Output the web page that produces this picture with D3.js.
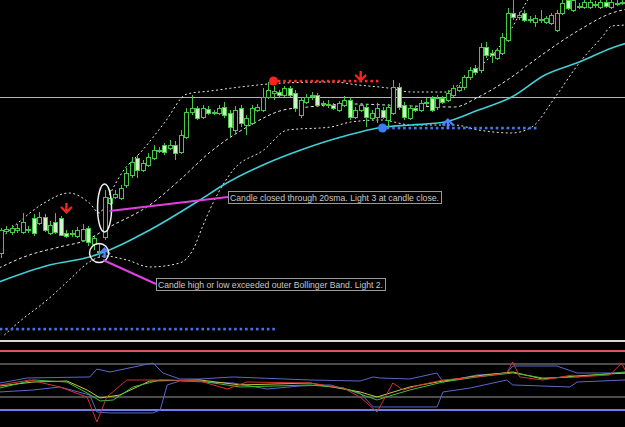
<!DOCTYPE html>
<html>
<head>
<meta charset="utf-8">
<script src="https://cdn.jsdelivr.net/npm/d3@7"></script>
<style>
  body { margin: 0; background: #000; overflow: hidden; }
  svg { display: block; }
</style>
</head>
<body>
<div id="chart"></div>
<script>
// candles, one per bar (prices)
const open = [1.3207,1.3229,1.3228,1.3230,1.3228,1.3231,1.3242,1.3237,1.3243,1.3227,
  1.3238,1.3242,1.3227,1.3226,1.3224,1.3220,1.3232,1.3216,1.3208,1.3223,
  1.3257,1.3263,1.3262,1.3275,1.3285,1.3302,1.3290,1.3295,1.3302,1.3309,
  1.3315,1.3312,1.3315,1.3308,1.3323,1.3348,1.3352,1.3343,1.3351,1.3348,
  1.3347,1.3353,1.3347,1.3330,1.3352,1.3335,1.3337,1.3350,1.3350,1.3363,
  1.3367,1.3368,1.3365,1.3372,1.3367,1.3345,1.3358,1.3364,1.3365,1.3356,
  1.3356,1.3355,1.3350,1.3355,1.3360,1.3343,1.3350,1.3353,1.3342,1.3343,
  1.3350,1.3340,1.3347,1.3373,1.3355,1.3342,1.3352,1.3350,1.3357,1.3362,
  1.3353,1.3362,1.3360,1.3365,1.3370,1.3373,1.3383,1.3392,1.3390,1.3413,
  1.3407,1.3402,1.3407,1.3420,1.3447,1.3443,1.3447,1.3440,1.3438,1.3441,
  1.3438,1.3437,1.3430,1.3447,1.3460,1.3450,1.3454,1.3453,1.3453,1.3455,
  1.3453,1.3458,1.3453,1.3456,1.3457];
const high = [1.3232,1.3234,1.3235,1.3236,1.3247,1.3234,1.3246,1.3248,1.3246,1.3239,
  1.3247,1.3244,1.3230,1.3230,1.3233,1.3236,1.3234,1.3225,1.3216,1.3270,
  1.3270,1.3270,1.3275,1.3292,1.3303,1.3305,1.3300,1.3307,1.3315,1.3313,
  1.3317,1.3320,1.3319,1.3330,1.3352,1.3365,1.3354,1.3355,1.3354,1.3350,
  1.3355,1.3358,1.3350,1.3354,1.3355,1.3345,1.3355,1.3356,1.3372,1.3378,
  1.3374,1.3370,1.3374,1.3374,1.3370,1.3363,1.3366,1.3368,1.3367,1.3359,
  1.3360,1.3357,1.3359,1.3364,1.3363,1.3353,1.3357,1.3356,1.3350,1.3357,
  1.3353,1.3356,1.3380,1.3377,1.3358,1.3355,1.3354,1.3360,1.3362,1.3364,
  1.3365,1.3364,1.3370,1.3375,1.3375,1.3385,1.3393,1.3395,1.3417,1.3418,
  1.3410,1.3412,1.3427,1.3452,1.3460,1.3448,1.3450,1.3444,1.3445,1.3450,
  1.3444,1.3447,1.3450,1.3460,1.3463,1.3464,1.3457,1.3460,1.3461,1.3459,
  1.3460,1.3460,1.3461,1.3460,1.3461];
const low = [1.3202,1.3226,1.3225,1.3227,1.3226,1.3227,1.3224,1.3235,1.3228,1.3225,
  1.3226,1.3224,1.3222,1.3223,1.3222,1.3218,1.3214,1.3210,1.3202,1.3220,
  1.3255,1.3261,1.3260,1.3272,1.3282,1.3282,1.3288,1.3293,1.3300,1.3307,
  1.3305,1.3310,1.3300,1.3306,1.3321,1.3345,1.3340,1.3341,1.3345,1.3345,
  1.3345,1.3342,1.3323,1.3327,1.3333,1.3325,1.3335,1.3348,1.3348,1.3361,
  1.3360,1.3363,1.3363,1.3363,1.3348,1.3342,1.3356,1.3360,1.3353,1.3353,
  1.3352,1.3350,1.3348,1.3353,1.3340,1.3341,1.3348,1.3333,1.3340,1.3337,
  1.3341,1.3333,1.3345,1.3350,1.3340,1.3340,1.3348,1.3348,1.3354,1.3348,
  1.3350,1.3356,1.3358,1.3363,1.3368,1.3370,1.3380,1.3385,1.3387,1.3402,
  1.3397,1.3400,1.3405,1.3418,1.3440,1.3440,1.3438,1.3437,1.3433,1.3437,
  1.3436,1.3435,1.3428,1.3445,1.3450,1.3448,1.3451,1.3451,1.3451,1.3452,
  1.3451,1.3452,1.3451,1.3454,1.3455];
const close = [1.3230,1.3231,1.3232,1.3232,1.3238,1.3230,1.3227,1.3243,1.3230,1.3235,
  1.3228,1.3225,1.3224,1.3227,1.3230,1.3231,1.3218,1.3222,1.3209,1.3263,
  1.3262,1.3266,1.3272,1.3287,1.3298,1.3290,1.3297,1.3303,1.3310,1.3310,
  1.3308,1.3315,1.3307,1.3325,1.3348,1.3352,1.3342,1.3352,1.3347,1.3347,
  1.3352,1.3345,1.3333,1.3350,1.3337,1.3342,1.3352,1.3353,1.3363,1.3370,
  1.3369,1.3365,1.3372,1.3365,1.3352,1.3360,1.3363,1.3365,1.3355,1.3357,
  1.3355,1.3352,1.3357,1.3360,1.3343,1.3350,1.3355,1.3343,1.3347,1.3352,
  1.3343,1.3353,1.3373,1.3353,1.3343,1.3352,1.3350,1.3357,1.3358,1.3350,
  1.3362,1.3358,1.3367,1.3372,1.3373,1.3383,1.3390,1.3388,1.3413,1.3405,
  1.3405,1.3410,1.3423,1.3447,1.3443,1.3445,1.3440,1.3441,1.3442,1.3440,
  1.3442,1.3445,1.3447,1.3457,1.3452,1.3460,1.3453,1.3458,1.3458,1.3456,
  1.3458,1.3454,1.3458,1.3457,1.3458];

// indicator curves: [bar index, value]
const upperBand = [[-0.4,1.3220],[3.3,1.3238],[7.9,1.3257],[12.5,1.3267],[16.2,1.3257],[18.1,1.3247],
  [19.4,1.3260],[22.3,1.3288],[26.0,1.3310],[30.1,1.3338],[34.1,1.3366],[38.4,1.3369],[43.9,1.3373],
  [51.8,1.3377],[61.1,1.3378],[65.5,1.3375],[71.0,1.3372],[75.3,1.3368],[81.7,1.3368],[84.5,1.3378],
  [88.2,1.3395],[92.4,1.3420],[96.1,1.3455],[98.3,1.3475]];
const middleBand = [[-0.4,1.3192],[5.2,1.3205],[10.7,1.3213],[15.7,1.3220],[19.9,1.3233],[27.3,1.3255],
  [32.8,1.3280],[38.4,1.3308],[45.8,1.3335],[51.8,1.3350],[56.3,1.3353],[64.2,1.3356],[75.3,1.3354],
  [83.2,1.3353],[87.6,1.3363],[90.6,1.3372],[93.7,1.3383],[98.7,1.3403],[106.1,1.3430],[112.1,1.3447],[114.9,1.3451]];
const lowerBand = [[0.6,1.3125],[3.3,1.3138],[8.9,1.3162],[12.5,1.3180],[16.2,1.3198],[19.0,1.3204],
  [23.1,1.3200],[27.3,1.3193],[32.8,1.3197],[35.2,1.3210],[37.1,1.3235],[38.9,1.3257],[42.6,1.3290],
  [48.2,1.3310],[52.6,1.3330],[60.5,1.3333],[64.2,1.3338],[69.7,1.3340],[75.3,1.3335],[83.2,1.3335],
  [87.6,1.3330],[93.7,1.3327],[97.4,1.3333],[101.7,1.3363],[106.1,1.3397],[110.3,1.3423],[112.1,1.3434],[114.9,1.3435]];
const slowMA = [[-0.4,1.3178],[8.9,1.3195],[16.2,1.3203],[19.9,1.3210],[27.3,1.3230],[36.5,1.3260],
  [40.8,1.3275],[48.9,1.3297],[55.0,1.3310],[62.4,1.3323],[70.3,1.3333],[75.3,1.3335],[81.4,1.3338],
  [87.6,1.3350],[93.7,1.3363],[99.8,1.3385],[106.1,1.3398],[112.1,1.3412],[114.9,1.3417]];
const hLevel = 1.3363;

// signals
const sellLevel = {from: 50, to: 69, price: 1.3379};
const buyLevel = {from: 70, to: 98, price: 1.3332};
const supportDots = {from: 0, to: 50, price: 1.3131};
const sellArrows = [[12, 1.3250], [66, 1.3382]];
const buyArrows = [[82, 1.3338], [19, 1.3209]];
const notes = ["Candle closed through 20sma. Light 3 at candle close.",
  "Candle high or low exceeded outer Bollinger Band. Light 2."];

// sub window oscillator
const oscLevels = [85, 70, 30, 15];
const oscUpper = [[-0.2,47.0],[4.8,53.0],[16.3,54.2],[17.6,63.6],[20.0,60.1],[27.9,70.8],[29.7,58.9],
  [32.8,51.8],[36.5,51.8],[42.6,54.2],[56.7,50.6],[65.9,49.4],[68.3,54.2],[69.5,53.0],[75.0,51.8],
  [80.0,58.9],[81.1,48.2],[87.3,56.5],[92.8,58.9],[93.9,67.2],[102.0,67.2],[105.7,58.9],[114.5,58.9]];
const oscLower = [[-0.2,36.4],[5.9,38.7],[10.8,42.3],[16.3,32.8],[17.6,12.6],[20.0,11.5],[27.9,11.5],
  [29.2,15.0],[30.5,44.7],[32.8,49.4],[42.6,47.0],[48.8,39.9],[54.9,43.5],[60.4,44.7],[65.9,35.2],
  [68.3,18.6],[80.0,18.6],[81.1,36.4],[86.1,41.1],[92.8,50.6],[93.9,44.7],[104.4,42.3],[105.7,48.2],[114.5,50.6]];
const oscRed = [[-0.2,44.7],[5.3,50.6],[10.8,42.3],[15.8,30.4],[17.6,0.8],[19.4,30.4],[23.1,50.6],
  [30.5,50.6],[36.5,49.4],[41.5,39.9],[45.1,48.2],[56.7,47.0],[62.8,41.1],[65.9,30.4],[69.0,12.6],
  [71.9,47.0],[73.8,38.7],[76.9,44.7],[81.1,50.6],[87.3,54.2],[92.8,58.9],[93.9,72.0],[95.2,54.2],
  [99.4,50.6],[104.9,56.5],[105.7,54.2],[111.7,56.5],[113.9,70.8],[114.5,62.5]];
const oscGreen = [[-0.2,41.1],[5.9,50.6],[12.1,48.2],[15.8,35.2],[18.2,25.7],[20.6,26.9],[24.2,42.3],
  [29.2,50.6],[36.5,49.4],[43.9,42.3],[56.7,44.7],[62.8,41.1],[69.0,26.9],[71.9,32.8],[75.0,38.7],
  [81.1,48.2],[87.3,54.2],[93.9,58.9],[99.4,53.0],[105.7,54.2],[114.5,60.1]];
const oscYellow = [[-0.2,43.5],[5.9,48.2],[12.1,49.4],[15.8,38.7],[18.2,29.2],[21.8,32.8],[27.3,49.4],
  [36.5,50.6],[43.9,44.7],[56.7,47.0],[65.9,36.4],[69.0,30.4],[75.0,42.3],[81.1,49.4],[87.3,55.4],
  [93.9,60.1],[99.4,51.8],[105.7,55.4],[114.5,58.9]];


var width = 625, height = 427;
var mainH = 340;

var x = d3.scaleLinear().domain([0, 114]).range([1, 622.3]);
var y = d3.scaleLinear().domain([1.3120, 1.3460]).range([mainH, 0]);
var oy = d3.scaleLinear().domain([85, 15]).range([351, 410]);

var svg = d3.select("#chart").append("svg")
  .attr("width", width)
  .attr("height", height)
  .style("background", "#000");

var defs = svg.append("defs");
defs.append("clipPath").attr("id", "clipMain")
  .append("rect").attr("x", 0).attr("y", 0).attr("width", width).attr("height", mainH);
defs.append("clipPath").attr("id", "clipSub")
  .append("rect").attr("x", 0).attr("y", 343).attr("width", width).attr("height", height - 343);

var main = svg.append("g").attr("clip-path", "url(#clipMain)");

// horizontal price line
main.append("line")
  .attr("x1", 0).attr("x2", width)
  .attr("y1", Math.round(y(hLevel)) + 0.5).attr("y2", Math.round(y(hLevel)) + 0.5)
  .attr("stroke", "#b4b4b4").attr("stroke-width", 1);

var curve = d3.line()
  .x(function(d) { return x(d[0]); })
  .y(function(d) { return y(d[1]); })
  .curve(d3.curveMonotoneX);

// bollinger bands
main.append("path").attr("d", curve(upperBand))
  .attr("fill", "none").attr("stroke", "#e6e6e6").attr("stroke-width", 1).attr("stroke-dasharray", "2,2.5");
main.append("path").attr("d", curve(lowerBand))
  .attr("fill", "none").attr("stroke", "#e6e6e6").attr("stroke-width", 1).attr("stroke-dasharray", "2,2.5");
main.append("path").attr("d", curve(middleBand))
  .attr("fill", "none").attr("stroke", "#e6e6e6").attr("stroke-width", 1).attr("stroke-dasharray", "3,2.5");

// slow MA
main.append("path").attr("d", curve(slowMA))
  .attr("fill", "none").attr("stroke", "#3fd0d8").attr("stroke-width", 1.6);

// candles
var bars = d3.range(open.length);
var cg = main.append("g");
cg.selectAll(".wick").data(bars).enter().append("line")
  .attr("class", "wick")
  .attr("x1", function(i) { return Math.round(x(i)) + 0.5; })
  .attr("x2", function(i) { return Math.round(x(i)) + 0.5; })
  .attr("y1", function(i) { return y(high[i]); })
  .attr("y2", function(i) { return y(low[i]); })
  .attr("stroke", "#46c846").attr("stroke-width", 1);
cg.selectAll(".body").data(bars).enter().append("rect")
  .attr("class", "body")
  .attr("x", function(i) { return Math.round(x(i)) - 1.5; })
  .attr("width", 4)
  .attr("y", function(i) { return Math.round(y(Math.max(open[i], close[i]))) + 0.5; })
  .attr("height", function(i) { return Math.max(1, Math.round(Math.abs(y(open[i]) - y(close[i])))); })
  .attr("fill", function(i) { return close[i] >= open[i] ? "#000" : "#cdf5c4"; })
  .attr("stroke", "#46c846").attr("stroke-width", 1);

// signal level dots
function dotRow(lv, color) {
  main.append("g").selectAll("rect").data(d3.range(lv.from, lv.to + 1)).enter().append("rect")
    .attr("x", function(i) { return x(i) - 1.2; })
    .attr("y", y(lv.price) - 1.2)
    .attr("width", 2.6).attr("height", 2.6)
    .attr("fill", color);
}
dotRow(sellLevel, "#ff2a2a");
dotRow(buyLevel, "#3f7cf0");
dotRow(supportDots, "#4a72e6");
main.append("circle").attr("cx", x(sellLevel.from)).attr("cy", y(sellLevel.price)).attr("r", 4.5).attr("fill", "#ff2020");
main.append("circle").attr("cx", x(buyLevel.from)).attr("cy", y(buyLevel.price)).attr("r", 4.5).attr("fill", "#3f7cf0");

// arrows
function downArrow(px, py) {
  return "M" + (px - 1.2) + "," + (py - 7) + "h2.4v6.5l3.6,-3.4l1.3,1.6l-6.1,6.3l-6.1,-6.3l1.3,-1.6l3.6,3.4z";
}
function upArrow(px, py) {
  return "M" + (px - 1.2) + "," + (py + 7) + "h2.4v-6.5l3.6,3.4l1.3,-1.6l-6.1,-6.3l-6.1,6.3l1.3,1.6l3.6,-3.4z";
}
main.selectAll(".sell").data(sellArrows).enter().append("path")
  .attr("class", "sell")
  .attr("d", function(d) { return downArrow(x(d[0]), y(d[1])); })
  .attr("fill", "#ff2020");
main.selectAll(".buy").data(buyArrows).enter().append("path")
  .attr("class", "buy")
  .attr("d", function(d) { return upArrow(x(d[0]), y(d[1])); })
  .attr("fill", "#4a86ff");

// annotations
main.append("ellipse")
  .attr("cx", x(19)).attr("cy", y(1.3252)).attr("rx", 7).attr("ry", 24)
  .attr("fill", "none").attr("stroke", "#f0f0f0").attr("stroke-width", 1.5);
main.append("circle")
  .attr("cx", x(18)).attr("cy", y(1.3207)).attr("r", 9.5)
  .attr("fill", "none").attr("stroke", "#f0f0f0").attr("stroke-width", 1.5);

var boxes = [
  {x: 228, y: 191, w: 213, h: 12, fromX: x(19) + 5, fromY: y(1.3249)},
  {x: 156, y: 278, w: 229, h: 12, fromX: x(18) + 4, fromY: y(1.3200)}
];
boxes.forEach(function(b, k) {
  main.append("line")
    .attr("x1", b.fromX).attr("y1", b.fromY)
    .attr("x2", b.x).attr("y2", b.y + 6)
    .attr("stroke", "#e040e0").attr("stroke-width", 2);
  main.append("rect")
    .attr("x", b.x + 0.5).attr("y", b.y + 0.5).attr("width", b.w).attr("height", b.h)
    .attr("fill", "#000").attr("stroke", "#9a9a9a").attr("stroke-width", 1);
  main.append("text")
    .attr("x", b.x + 2).attr("y", b.y + 9.5)
    .attr("textLength", b.w - 4).attr("lengthAdjust", "spacingAndGlyphs")
    .style("font-family", "Liberation Sans, Arial, sans-serif")
    .style("font-size", "9.5px")
    .attr("fill", "#c8c8c8")
    .text(notes[k]);
});

// sub window
svg.append("rect").attr("x", 0).attr("y", 340).attr("width", width).attr("height", 2).attr("fill", "#d8d8d8");
var levelStyle = [["#e05555", 2], ["#9a9a9a", 1], ["#9a9a9a", 1], ["#6a80e4", 2]];
oscLevels.forEach(function(v, k) {
  var yy = Math.round(oy(v));
  svg.append("rect").attr("x", 0).attr("y", yy - levelStyle[k][1] / 2).attr("width", width)
    .attr("height", levelStyle[k][1]).attr("fill", levelStyle[k][0]);
});

var sub = svg.append("g").attr("clip-path", "url(#clipSub)");
var oline = d3.line()
  .x(function(d) { return x(d[0]); })
  .y(function(d) { return oy(d[1]); });
[[oscUpper, "#5b68c8"], [oscLower, "#5b68c8"], [oscYellow, "#c8c83c"], [oscGreen, "#3cc03c"], [oscRed, "#d83030"]]
  .forEach(function(s) {
    sub.append("path").attr("d", oline(s[0]))
      .attr("fill", "none").attr("stroke", s[1]).attr("stroke-width", 1);
  });
</script>
</body>
</html>
